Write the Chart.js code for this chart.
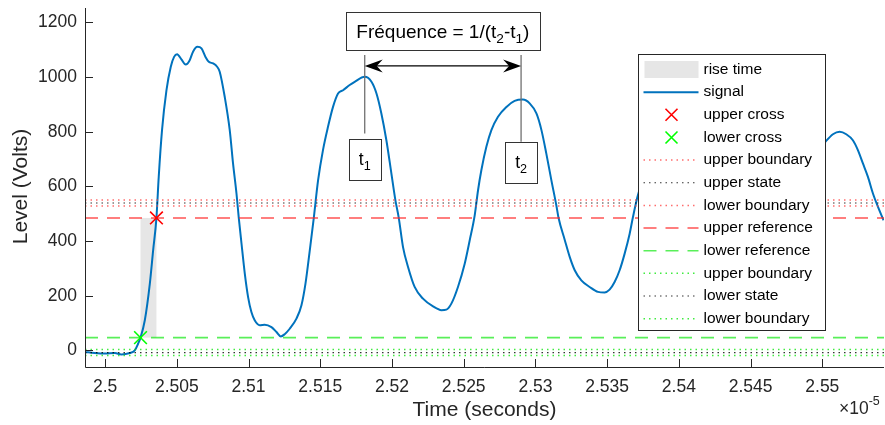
<!DOCTYPE html>
<html>
<head>
<meta charset="utf-8">
<script src="https://cdn.jsdelivr.net/npm/chart.js@4.4.1/dist/chart.umd.min.js"></script>
<style>
  html, body { margin: 0; padding: 0; background: #fff; }
  canvas { display: block; }
</style>
</head>
<body>
<canvas id="grafica" width="885" height="425"></canvas>
<script>
// tiempo en unidades de 1e-5 s
var tiempo = [2.49859, 2.49928, 2.49998, 2.50068, 2.50114, 2.50172, 2.50207, 2.50230, 2.50247, 2.50277,
  2.50312, 2.50335, 2.50358, 2.50374, 2.50397, 2.50428, 2.50458, 2.50481, 2.50502, 2.50532,
  2.50562, 2.50590, 2.50613, 2.50644, 2.50672, 2.50700, 2.50723, 2.50753, 2.50781, 2.50799,
  2.50834, 2.50869, 2.50892, 2.50916, 2.50932, 2.50951, 2.50974, 2.50997, 2.51020, 2.51043,
  2.51078, 2.51113, 2.51160, 2.51195, 2.51225, 2.51252, 2.51287, 2.51334, 2.51369, 2.51397,
  2.51427, 2.51455, 2.51485, 2.51519, 2.51554, 2.51589, 2.51624, 2.51659, 2.51705, 2.51740,
  2.51810, 2.51857, 2.51892, 2.51926, 2.51961, 2.51996, 2.52024, 2.52047, 2.52077, 2.52112,
  2.52158, 2.52216, 2.52286, 2.52345, 2.52379, 2.52414, 2.52460, 2.52507, 2.52542, 2.52577,
  2.52600, 2.52623, 2.52658, 2.52693, 2.52739, 2.52798, 2.52855, 2.52913, 2.52960, 2.53007,
  2.53042, 2.53076, 2.53111, 2.53146, 2.53161, 2.53204, 2.53239, 2.53274, 2.53320, 2.53378,
  2.53436, 2.53483, 2.53517, 2.53552, 2.53587, 2.53622, 2.53657, 2.53680, 2.53711, 2.53762,
  2.53831, 2.53901, 2.53992, 2.54075, 2.54180, 2.54284, 2.54389, 2.54494, 2.54584, 2.54689,
  2.54787, 2.54898, 2.55021, 2.55074, 2.55121, 2.55167, 2.55213, 2.55248, 2.55283, 2.55318,
  2.55353, 2.55388, 2.55427];
var nivel = [-6, -10, -12, -10, -15, -10, 0, 24, 46.5, 110,
  244, 366, 485, 635, 806, 952, 1038, 1074, 1084, 1065,
  1046, 1062, 1093, 1111, 1105, 1074, 1056, 1050, 1038, 1020,
  928, 806, 684, 574, 485, 391, 281, 195, 140, 110,
  92, 94, 85, 67, 51, 59, 79, 116, 165, 244,
  366, 485, 623, 733, 818, 891, 940, 952, 971, 983,
  1001, 983, 940, 867, 769, 647, 549, 486, 378, 305,
  232, 189, 161, 147, 149, 171, 232, 317, 403, 495,
  586, 659, 745, 806, 855, 891, 913, 918, 904, 867,
  806, 720, 623, 530, 485, 405, 342, 293, 256, 232,
  214, 212, 222, 250, 293, 354, 427, 488, 561, 650,
  740, 810, 850, 830, 720, 560, 400, 290, 260, 330,
  500, 680, 763, 791, 800, 791, 769, 733, 684, 635,
  574, 525, 476];

var cruceX = [2.50358, 2.50247];
var cruceY = [484.6, 46.5];
var cruceNombres = ["upper cross", "lower cross"];

var nivelesNombres = ["upper boundary", "upper state", "lower boundary", "upper reference",
  "lower reference", "upper boundary", "lower state", "lower boundary"];
var nivelesValores = [550.3, 539.3, 528.3, 484.6, 46.5, 2.7, -8.3, -19.3];

var subidaInicio = 2.50247, subidaFin = 2.50358;

var marcasT = [2.5181, 2.5290];
var etiquetasT = ["1", "2"];

var xMin = 2.4986, xMax = 2.5543, yMin = -61, yMax = 1253;
var xTicks = [2.5, 2.505, 2.51, 2.515, 2.52, 2.525, 2.53, 2.535, 2.54, 2.545, 2.55];
var xEtiquetas = ["2.5", "2.505", "2.51", "2.515", "2.52", "2.525", "2.53", "2.535", "2.54", "2.545", "2.55"];
var yTicks = [0, 200, 400, 600, 800, 1000, 1200];
var yEtiquetas = ["0", "200", "400", "600", "800", "1000", "1200"];

var FUENTE = "'Liberation Sans', Arial, Helvetica, sans-serif";
var GRIS = "#262626";

// estilos de las lineas horizontales
var nivelesColor = ["rgba(255,60,60,0.75)", "rgba(0,0,0,0.8)", "rgba(255,60,60,0.75)", "rgba(255,40,40,0.6)",
  "rgba(0,230,0,0.65)", "rgba(0,230,0,0.75)", "rgba(0,0,0,0.8)", "rgba(0,230,0,0.75)"];
var nivelesDash = [[1.5, 4], [1.5, 4], [1.5, 4], [13, 9], [13, 9], [1.5, 4], [1.5, 4], [1.5, 4]];
var nivelesAncho = [1.5, 1.2, 1.5, 2, 1.6, 1.5, 1.2, 1.5];

var datosSenal = tiempo.map(function (t, i) { return { x: t, y: nivel[i] }; });

var datasets = [{
  label: "signal",
  data: datosSenal,
  borderColor: "#0072BD",
  borderWidth: 2,
  pointRadius: 0,
  cubicInterpolationMode: "monotone",
  order: 2
}];
for (var c = 0; c < cruceX.length; c++) {
  datasets.push({
    label: cruceNombres[c],
    data: [{ x: cruceX[c], y: cruceY[c] }],
    showLine: false,
    pointStyle: "crossRot",
    pointRadius: 9,
    borderWidth: 1.6,
    borderColor: c === 0 ? "#ff0000" : "#00ff00",
    order: 0
  });
}
for (var k = 0; k < nivelesValores.length; k++) {
  datasets.push({
    label: nivelesNombres[k],
    data: [{ x: xMin, y: nivelesValores[k] }, { x: xMax, y: nivelesValores[k] }],
    borderColor: nivelesColor[k],
    borderDash: nivelesDash[k],
    borderWidth: nivelesAncho[k],
    pointRadius: 0,
    order: 1
  });
}

function textoConSub(ctx, partes, x, y, tam) {
  // partes: [texto, esSub]
  var cx = x;
  partes.forEach(function (p) {
    if (p[1]) {
      ctx.font = (tam * 0.72) + "px " + FUENTE;
      ctx.fillText(p[0], cx, y + tam * 0.3);
    } else {
      ctx.font = tam + "px " + FUENTE;
      ctx.fillText(p[0], cx, y);
    }
    cx += ctx.measureText(p[0]).width;
  });
  return cx - x;
}
function anchoConSub(ctx, partes, tam) {
  var w = 0;
  partes.forEach(function (p) {
    ctx.font = (p[1] ? tam * 0.72 : tam) + "px " + FUENTE;
    w += ctx.measureText(p[0]).width;
  });
  return w;
}

var pluginEjes = {
  id: "ejes",
  beforeDatasetsDraw: function (chart) {
    var ctx = chart.ctx, sx = chart.scales.x, sy = chart.scales.y, a = chart.chartArea;
    ctx.save();
    ctx.beginPath();
    ctx.rect(a.left, a.top, a.right - a.left, a.bottom - a.top);
    ctx.clip();
    var x1 = sx.getPixelForValue(subidaInicio), x2 = sx.getPixelForValue(subidaFin);
    var y1 = sy.getPixelForValue(nivelesValores[3]), y2 = sy.getPixelForValue(nivelesValores[4]);
    ctx.fillStyle = "#e6e6e6";
    ctx.fillRect(x1, y1, x2 - x1, y2 - y1);
    ctx.restore();
  },
  afterDatasetsDraw: function (chart) {
    var ctx = chart.ctx, sx = chart.scales.x, sy = chart.scales.y, a = chart.chartArea;
    ctx.save();
    // ejes y ticks hacia adentro
    ctx.strokeStyle = GRIS;
    ctx.lineWidth = 1;
    ctx.beginPath();
    ctx.moveTo(a.left + 0.5, a.top);
    ctx.lineTo(a.left + 0.5, a.bottom + 0.5);
    ctx.lineTo(a.right, a.bottom + 0.5);
    sx.ticks.forEach(function (t) {
      var px = Math.round(sx.getPixelForValue(t.value)) + 0.5;
      ctx.moveTo(px, a.bottom);
      ctx.lineTo(px, a.bottom - 8);
    });
    sy.ticks.forEach(function (t) {
      var py = Math.round(sy.getPixelForValue(t.value)) + 0.5;
      ctx.moveTo(a.left, py);
      ctx.lineTo(a.left + 8, py);
    });
    ctx.stroke();

    // titulos de ejes
    ctx.fillStyle = GRIS;
    ctx.font = "21px " + FUENTE;
    ctx.textAlign = "center";
    ctx.textBaseline = "middle";
    ctx.fillText("Time (seconds)", (a.left + a.right) / 2, 410);
    ctx.save();
    ctx.translate(21, (a.top + a.bottom) / 2 - 1);
    ctx.rotate(-Math.PI / 2);
    ctx.fillText("Level (Volts)", 0, 0);
    ctx.restore();
    ctx.textAlign = "left";
    ctx.textBaseline = "alphabetic";
    ctx.font = "17.5px " + FUENTE;
    ctx.fillText("\u00d710", a.right - 45, 414);
    var wx = ctx.measureText("\u00d710").width;
    ctx.font = "12.5px " + FUENTE;
    ctx.fillText("-5", a.right - 45 + wx, 405);

    // anotacion de frecuencia
    var p1 = sx.getPixelForValue(marcasT[0]), p2 = sx.getPixelForValue(marcasT[1]);
    var yTop = sy.getPixelForValue(1081);
    var yCajas = [sy.getPixelForValue(773), sy.getPixelForValue(763)];
    var yFin = [sy.getPixelForValue(794), sy.getPixelForValue(763)];
    ctx.strokeStyle = "#707070";
    ctx.lineWidth = 1.3;
    [p1, p2].forEach(function (p, i) {
      ctx.beginPath();
      ctx.moveTo(p, yTop);
      ctx.lineTo(p, yFin[i]);
      ctx.stroke();
    });
    // flecha doble
    var yf = sy.getPixelForValue(1041);
    ctx.strokeStyle = "#000";
    ctx.fillStyle = "#000";
    ctx.lineWidth = 1.3;
    ctx.beginPath();
    ctx.moveTo(p1 + 4, yf);
    ctx.lineTo(p2 - 4, yf);
    ctx.stroke();
    function punta(xt, dir) {
      ctx.beginPath();
      ctx.moveTo(xt, yf);
      ctx.lineTo(xt + dir * 18, yf - 6.5);
      ctx.lineTo(xt + dir * 12, yf);
      ctx.lineTo(xt + dir * 18, yf + 6.5);
      ctx.closePath();
      ctx.fill();
    }
    punta(p1, 1);
    punta(p2, -1);

    // cajas t1, t2
    ctx.lineWidth = 1;
    ctx.strokeStyle = "#333";
    [p1, p2].forEach(function (p, i) {
      var bx = Math.round(p - 16) + 0.5, by = Math.round(yCajas[i]) + 0.5;
      ctx.fillStyle = "#fff";
      ctx.fillRect(bx, by, 32, 41);
      ctx.strokeRect(bx, by, 32, 41);
      ctx.fillStyle = "#000";
      ctx.textBaseline = "alphabetic";
      var partes = [["t", false], [etiquetasT[i], true]];
      var w = anchoConSub(ctx, partes, 17.5);
      textoConSub(ctx, partes, p - w / 2, by + 25, 17.5);
    });

    // caja de la formula
    var partesF = [["Fr\u00e9quence = 1/(t", false], ["2", true], ["-t", false], ["1", true], [")", false]];
    var cx = (p1 + p2) / 2;
    var fTop = Math.round(sy.getPixelForValue(1239)) + 0.5, fBot = Math.round(sy.getPixelForValue(1099)) + 0.5;
    var fw = 194;
    ctx.fillStyle = "#fff";
    ctx.fillRect(Math.round(cx - fw / 2) + 0.5, fTop, fw, fBot - fTop);
    ctx.strokeRect(Math.round(cx - fw / 2) + 0.5, fTop, fw, fBot - fTop);
    ctx.fillStyle = "#000";
    var wf = anchoConSub(ctx, partesF, 19);
    textoConSub(ctx, partesF, cx - wf / 2, fTop + 25, 19);
    ctx.restore();
  },
  afterDraw: function (chart) {
    // leyenda dibujada a mano dentro del area
    var ctx = chart.ctx, a = chart.chartArea;
    var x0 = Math.round(a.right - 246) + 0.5, y0 = Math.round(a.top + 46) + 0.5;
    var w = 187, h = 276, paso = 22.65;
    ctx.save();
    ctx.fillStyle = "#fff";
    ctx.fillRect(x0, y0, w, h);
    ctx.strokeStyle = GRIS;
    ctx.lineWidth = 1;
    ctx.strokeRect(x0, y0, w, h);
    var items = [{ label: "rise time", tipo: "patch" }];
    chart.data.datasets.forEach(function (d) { items.push(d); });
    ctx.font = "15.5px " + FUENTE;
    ctx.textBaseline = "middle";
    ctx.textAlign = "left";
    items.forEach(function (it, i) {
      var yy = y0 + 15 + i * paso;
      if (it.tipo === "patch") {
        ctx.fillStyle = "#e6e6e6";
        ctx.fillRect(x0 + 6, yy - 8.5, 54, 17);
      } else if (it.showLine === false) {
        ctx.strokeStyle = it.borderColor;
        ctx.lineWidth = 1.6;
        ctx.beginPath();
        ctx.moveTo(x0 + 27, yy - 6); ctx.lineTo(x0 + 39, yy + 6);
        ctx.moveTo(x0 + 39, yy - 6); ctx.lineTo(x0 + 27, yy + 6);
        ctx.stroke();
      } else {
        ctx.strokeStyle = it.borderColor;
        ctx.lineWidth = it.borderWidth;
        ctx.setLineDash(it.borderDash || []);
        ctx.beginPath();
        ctx.moveTo(x0 + 5, yy);
        ctx.lineTo(x0 + 60, yy);
        ctx.stroke();
        ctx.setLineDash([]);
      }
      ctx.fillStyle = "#000";
      ctx.fillText(it.label, x0 + 65, yy);
    });
    ctx.restore();
  }
};

new Chart("grafica", {
  type: "line",
  data: { datasets: datasets },
  options: {
    responsive: false,
    animation: false,
    events: [],
    layout: { autoPadding: false, padding: { top: 8, right: 1, left: 0, bottom: 0 } },
    plugins: { legend: { display: false }, tooltip: { enabled: false } },
    scales: {
      x: {
        type: "linear",
        min: xMin,
        max: xMax,
        grid: { display: false, drawTicks: false },
        border: { display: false },
        afterBuildTicks: function (scale) {
          scale.ticks = xTicks.map(function (v) { return { value: v }; });
        },
        afterFit: function (scale) {
          scale.height = 58;
          scale.paddingLeft = 0;
          scale.paddingRight = 0;
        },
        ticks: {
          autoSkip: false,
          maxRotation: 0,
          padding: 10,
          color: GRIS,
          font: { family: FUENTE, size: 17.5 },
          callback: function (v, i) { return xEtiquetas[i]; }
        }
      },
      y: {
        type: "linear",
        min: yMin,
        max: yMax,
        grid: { display: false, drawTicks: false },
        border: { display: false },
        afterBuildTicks: function (scale) {
          scale.ticks = yTicks.map(function (v) { return { value: v }; });
        },
        afterFit: function (scale) {
          scale.width = 85;
          scale.paddingTop = 0;
          scale.paddingBottom = 0;
        },
        ticks: {
          padding: 8,
          color: GRIS,
          font: { family: FUENTE, size: 17.5 },
          callback: function (v, i) { return yEtiquetas[i]; }
        }
      }
    }
  },
  plugins: [pluginEjes]
});
</script>
</body>
</html>
